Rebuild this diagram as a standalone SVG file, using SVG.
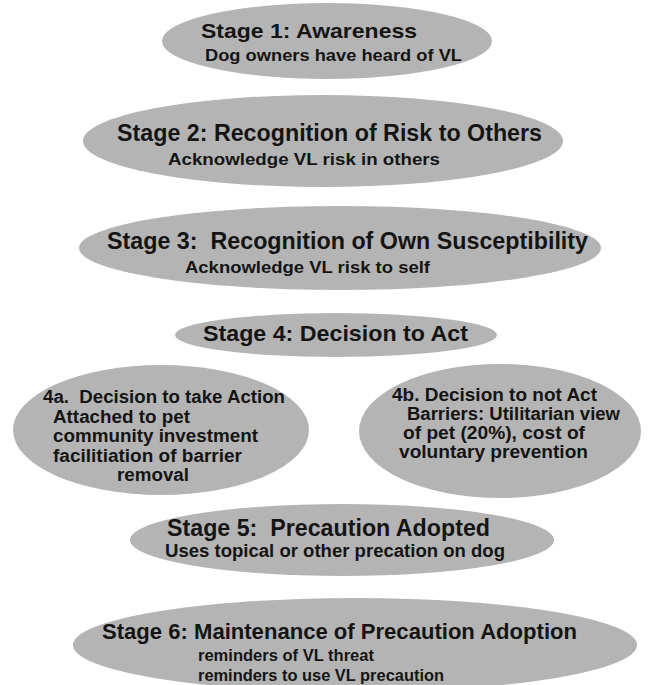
<svg xmlns="http://www.w3.org/2000/svg" width="650" height="685" viewBox="0 0 650 685">
<style>
.bg{fill:#ffffff}
.node{fill:#b4b4b4}
text{font-family:"Liberation Sans",Arial,sans-serif;font-weight:bold;fill:#141414;white-space:pre}
.t21{font-size:21px}
.t22{font-size:22px}
.t23{font-size:23px}
.s16{font-size:16px}
.s17{font-size:17px}
.s18{font-size:18px}
</style>
<rect class="bg" x="0" y="0" width="650" height="685"/>
<g id="connectors"/>
<g id="stage1">
<ellipse class="node" cx="327" cy="41" rx="165" ry="38"/>
<text class="t21" x="201" y="38" textLength="216" lengthAdjust="spacingAndGlyphs">Stage 1: Awareness</text>
<text class="s17" x="205" y="61" textLength="257" lengthAdjust="spacingAndGlyphs">Dog owners have heard of VL</text>
</g>
<g id="stage2">
<ellipse class="node" cx="323" cy="141" rx="240" ry="46"/>
<text class="t23" x="117" y="141" textLength="425" lengthAdjust="spacingAndGlyphs">Stage 2: Recognition of Risk to Others</text>
<text class="s17" x="168" y="165" textLength="272" lengthAdjust="spacingAndGlyphs">Acknowledge VL risk in others</text>
</g>
<g id="stage3">
<ellipse class="node" cx="340" cy="248" rx="261" ry="42"/>
<text class="t23" x="107" y="249" textLength="481" lengthAdjust="spacingAndGlyphs">Stage 3:  Recognition of Own Susceptibility</text>
<text class="s17" x="185" y="273" textLength="245" lengthAdjust="spacingAndGlyphs">Acknowledge VL risk to self</text>
</g>
<g id="stage4">
<ellipse class="node" cx="336" cy="335" rx="161" ry="22"/>
<text class="t22" x="203" y="341" textLength="265" lengthAdjust="spacingAndGlyphs">Stage 4: Decision to Act</text>
</g>
<g id="stage4a">
<ellipse class="node" cx="161" cy="430" rx="148" ry="65"/>
<text class="s18" x="43" y="403" textLength="242" lengthAdjust="spacingAndGlyphs">4a.  Decision to take Action</text>
<text class="s18" x="53" y="423" textLength="137" lengthAdjust="spacingAndGlyphs">Attached to pet</text>
<text class="s18" x="53" y="442" textLength="205" lengthAdjust="spacingAndGlyphs">community investment</text>
<text class="s18" x="53" y="462" textLength="189" lengthAdjust="spacingAndGlyphs">facilitiation of barrier</text>
<text class="s18" x="117" y="481" textLength="72" lengthAdjust="spacingAndGlyphs">removal</text>
</g>
<g id="stage4b">
<ellipse class="node" cx="500" cy="431" rx="141" ry="67"/>
<text class="s18" x="392" y="401" textLength="205" lengthAdjust="spacingAndGlyphs">4b. Decision to not Act</text>
<text class="s18" x="407" y="420" textLength="213" lengthAdjust="spacingAndGlyphs">Barriers: Utilitarian view</text>
<text class="s18" x="403" y="439" textLength="182" lengthAdjust="spacingAndGlyphs">of pet (20%), cost of</text>
<text class="s18" x="399" y="458" textLength="189" lengthAdjust="spacingAndGlyphs">voluntary prevention</text>
</g>
<g id="stage5">
<ellipse class="node" cx="342" cy="540" rx="212" ry="36"/>
<text class="t23" x="167" y="536" textLength="323" lengthAdjust="spacingAndGlyphs">Stage 5:  Precaution Adopted</text>
<text class="s18" x="165" y="557" textLength="340" lengthAdjust="spacingAndGlyphs">Uses topical or other precation on dog</text>
</g>
<g id="stage6">
<ellipse class="node" cx="355" cy="645" rx="282" ry="47"/>
<text class="t22" x="102" y="639" textLength="475" lengthAdjust="spacingAndGlyphs">Stage 6: Maintenance of Precaution Adoption</text>
<text class="s16" x="198" y="661" textLength="176" lengthAdjust="spacingAndGlyphs">reminders of VL threat</text>
<text class="s16" x="198" y="681" textLength="246" lengthAdjust="spacingAndGlyphs">reminders to use VL precaution</text>
</g>
</svg>
